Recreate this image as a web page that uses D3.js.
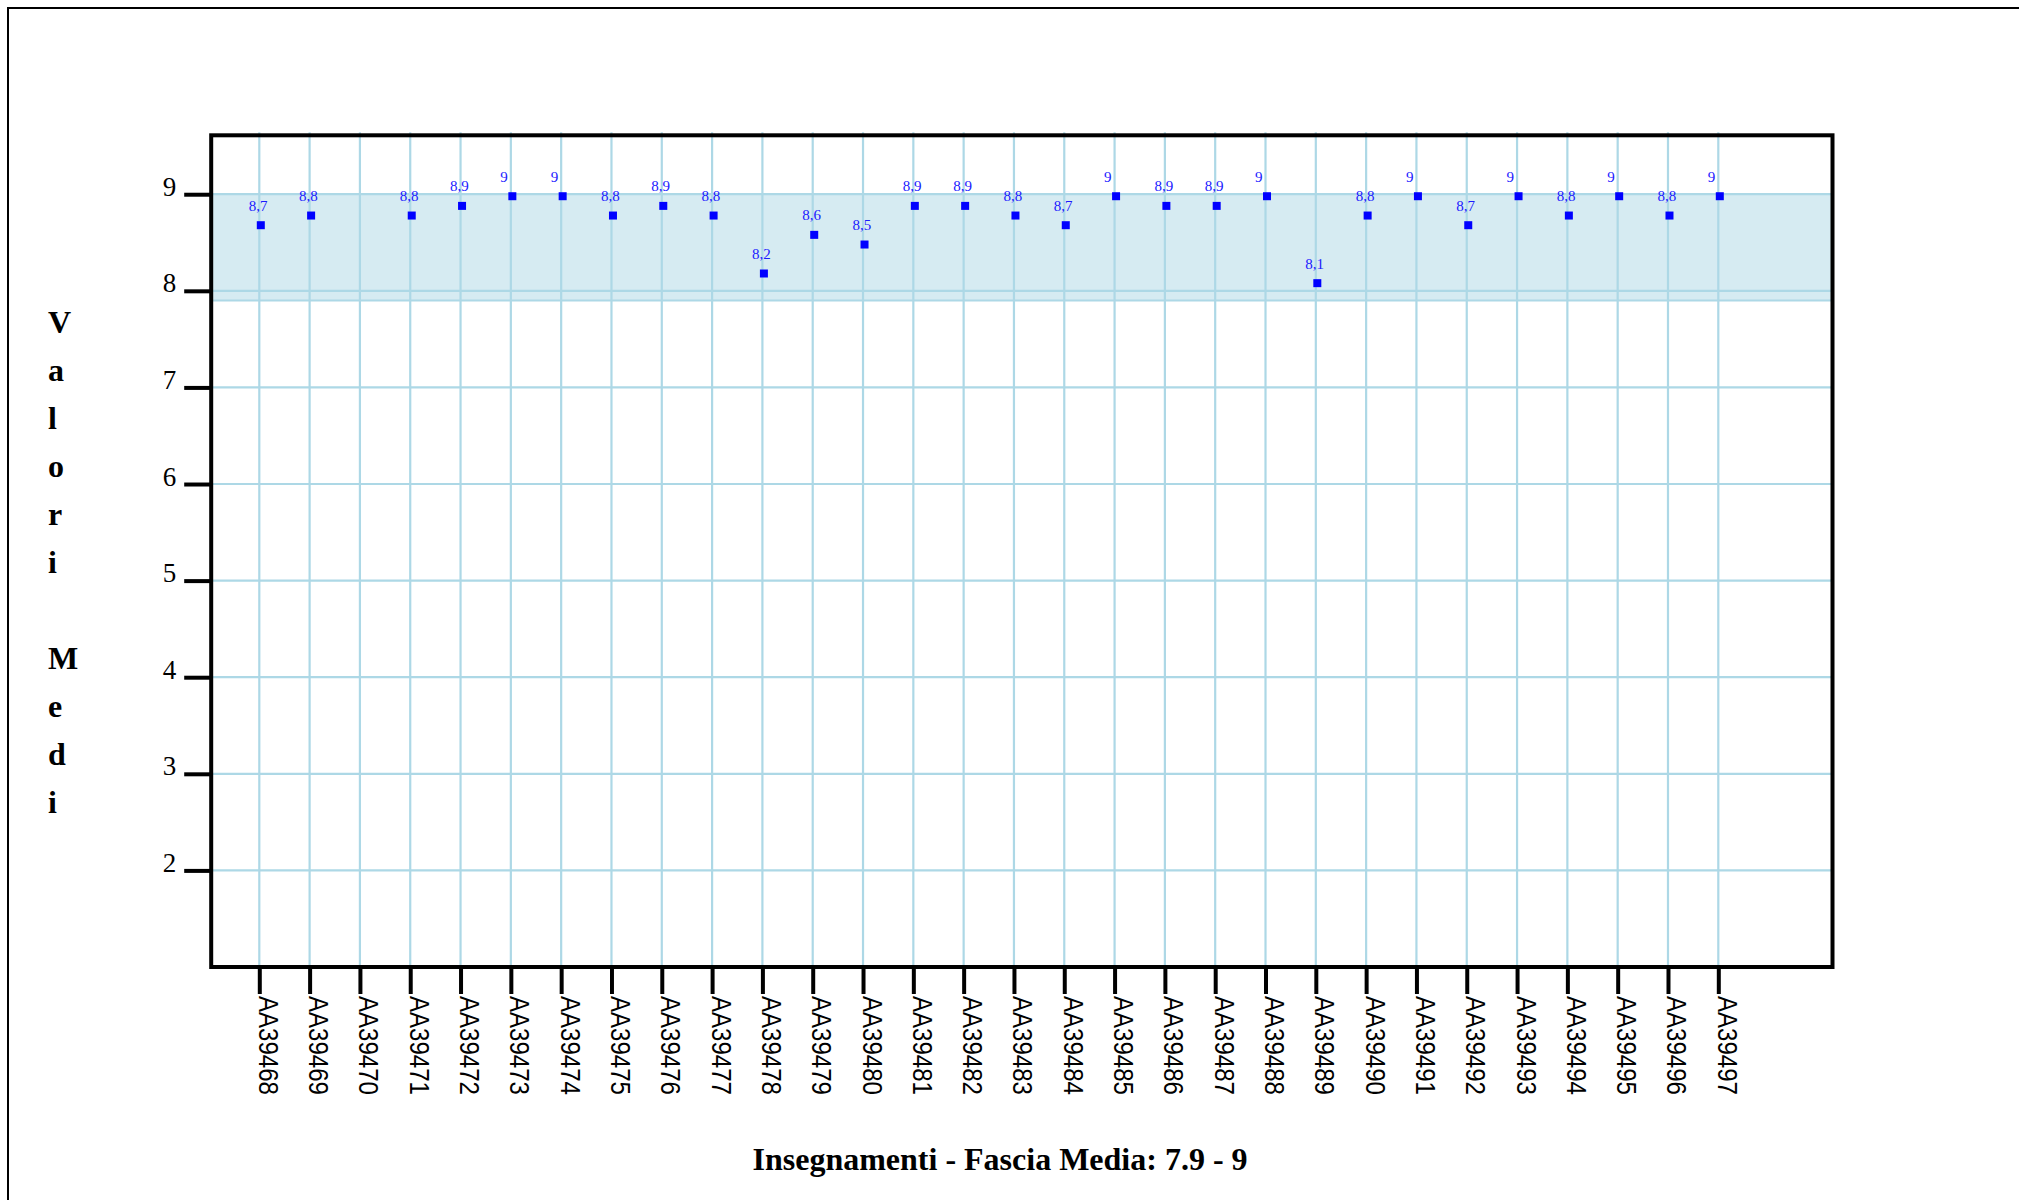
<!DOCTYPE html>
<html>
<head>
<meta charset="utf-8">
<script src="https://cdn.jsdelivr.net/npm/d3@7"></script>
<style>
  html, body { margin: 0; padding: 0; background: #fff; }
  svg { display: block; }
</style>
</head>
<body>
<script>
// ---- data ----
const categories = ["AA39468","AA39469","AA39470","AA39471","AA39472","AA39473","AA39474","AA39475","AA39476","AA39477",
  "AA39478","AA39479","AA39480","AA39481","AA39482","AA39483","AA39484","AA39485","AA39486","AA39487",
  "AA39488","AA39489","AA39490","AA39491","AA39492","AA39493","AA39494","AA39495","AA39496","AA39497"];
const values = [8.7, 8.8, null, 8.8, 8.9, 9, 9, 8.8, 8.9, 8.8,
  8.2, 8.6, 8.5, 8.9, 8.9, 8.8, 8.7, 9, 8.9, 8.9,
  9, 8.1, 8.8, 9, 8.7, 9, 8.8, 9, 8.8, 9];
const yTicks = [2, 3, 4, 5, 6, 7, 8, 9];
const bandRange = [7.9, 9];
const yTitle = "Valori Medi";
const xTitle = "Insegnamenti - Fascia Media: 7.9 - 9";

// ---- layout ----
const W = 2019, H = 1200;
const plot = { left: 211.2, top: 135.3, right: 1832.5, bottom: 967 };

const svg = d3.select("body").append("svg").attr("width", W).attr("height", H);
svg.append("rect").attr("width", W).attr("height", H).attr("fill", "#fff");

// outer border
svg.append("rect").attr("x", 8).attr("y", 8).attr("width", 2200).attr("height", 1400)
  .attr("fill", "none").attr("stroke", "#000").attr("stroke-width", 2);

const y = d3.scaleLinear().domain([1, 9.61]).range([plot.bottom, plot.top]);
const x = d3.scalePoint().domain(categories).range([259.3, 1718.3]);

const grid = "#add8e6";

// band
svg.append("rect")
  .attr("x", plot.left).attr("width", plot.right - plot.left)
  .attr("y", y(bandRange[1])).attr("height", y(bandRange[0]) - y(bandRange[1]))
  .attr("fill", grid).attr("fill-opacity", 0.5);

// horizontal grid lines
svg.append("g").selectAll("line").data(yTicks.concat([bandRange[0]])).join("line")
  .attr("x1", plot.left).attr("x2", plot.right)
  .attr("y1", d => y(d)).attr("y2", d => y(d))
  .attr("stroke", grid).attr("stroke-width", 2.2);

// vertical grid lines
svg.append("g").selectAll("line").data(categories).join("line")
  .attr("x1", d => x(d)).attr("x2", d => x(d))
  .attr("y1", plot.top - 3).attr("y2", plot.bottom)
  .attr("stroke", grid).attr("stroke-width", 2.2);

// frame
svg.append("rect")
  .attr("x", plot.left).attr("y", plot.top)
  .attr("width", plot.right - plot.left).attr("height", plot.bottom - plot.top)
  .attr("fill", "none").attr("stroke", "#000").attr("stroke-width", 4);

// y axis
const yAxis = svg.append("g").attr("transform", `translate(${plot.left},0)`)
  .call(d3.axisLeft(y).tickValues(yTicks).tickSize(27).tickPadding(8).tickFormat(d3.format("d")));
yAxis.select(".domain").remove();
yAxis.selectAll(".tick line").attr("stroke", "#000").attr("stroke-width", 4);
yAxis.selectAll(".tick text")
  .attr("font-family", "'Liberation Serif', 'Times New Roman', serif")
  .attr("font-size", 27).attr("fill", "#000").attr("dy", "1");

// x axis
const xAxis = svg.append("g").attr("transform", `translate(0,${plot.bottom})`)
  .call(d3.axisBottom(x).tickSize(27).tickPadding(0));
xAxis.select(".domain").remove();
xAxis.selectAll(".tick line").attr("stroke", "#000").attr("stroke-width", 4);
xAxis.selectAll(".tick text")
  .attr("font-family", "'Liberation Sans', Arial, sans-serif")
  .attr("font-size", 27).attr("fill", "#000")
  .attr("text-anchor", "start")
  .attr("dy", null).attr("y", null)
  .attr("transform", "translate(-1,29) rotate(90)")
  .attr("textLength", 99).attr("lengthAdjust", "spacingAndGlyphs");

// points
const pts = categories.map((c, i) => ({ c, v: values[i] })).filter(d => d.v != null);
svg.append("g").selectAll("rect").data(pts).join("rect")
  .attr("x", d => x(d.c) + 1.5 - 4).attr("y", d => y(d.v) + 2 - 4)
  .attr("width", 8).attr("height", 8).attr("fill", "#0000ff");

// value labels
svg.append("g").selectAll("text").data(pts).join("text")
  .attr("x", d => x(d.c) - 10.5).attr("y", d => y(d.v) + 2 - 14.5)
  .attr("font-family", "'Liberation Serif', 'Times New Roman', serif")
  .attr("font-size", 15).attr("fill", "#1a1aff")
  .text(d => String(d.v).replace(".", ","));

// y title: stacked letters
const letters = yTitle.split("");
svg.append("g").selectAll("text").data(letters).join("text")
  .attr("x", 48).attr("y", (d, i) => 333 + i * 48)
  .attr("font-family", "'Liberation Serif', 'Times New Roman', serif")
  .attr("font-weight", "bold").attr("font-size", 32).attr("fill", "#000")
  .text(d => d);

// x title
svg.append("text").attr("x", 1000).attr("y", 1170).attr("text-anchor", "middle")
  .attr("font-family", "'Liberation Serif', 'Times New Roman', serif")
  .attr("font-weight", "bold").attr("font-size", 32).attr("fill", "#000")
  .text(xTitle);
</script>
</body>
</html>
